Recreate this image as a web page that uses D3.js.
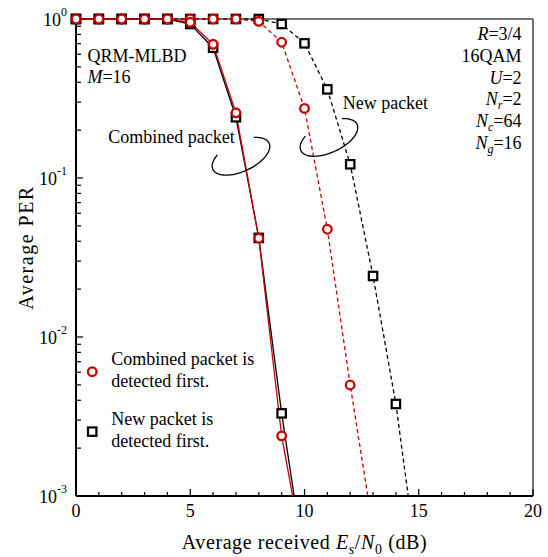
<!DOCTYPE html>
<html>
<head>
<meta charset="utf-8">
<script src="https://cdn.jsdelivr.net/npm/d3@7"></script>
<style>
  html, body { margin: 0; padding: 0; background: #fff; }
  svg { display: block; font-family: "Liberation Serif", "Times New Roman", serif; }
</style>
</head>
<body>
<svg id="chart" width="548" height="557"></svg>
<script>
// SNR grid (dB) for each curve
const snrCombined = [0, 1, 2, 3, 4, 5, 6, 7, 8, 9, 10];
const snrNewRed   = [0, 1, 2, 3, 4, 5, 6, 7, 8, 9, 10, 11, 12, 13];
const snrNewBlack = [0, 1, 2, 3, 4, 5, 6, 7, 8, 9, 10, 11, 12, 13, 14, 15];

// PER of the combined packet
const perCombinedRed   = [1, 1, 1, 1, 1, 0.953, 0.693, 0.257, 0.0418, 0.00239, 0.00039];
const perCombinedBlack = [1, 1, 1, 1, 1, 0.93, 0.66, 0.241, 0.042, 0.00331, 0.00037];
// PER of the new packet
const perNewRed   = [1, 1, 1, 1, 1, 1, 1, 1, 0.967, 0.714, 0.274, 0.0476, 0.00499, 0.00062];
const perNewBlack = [1, 1, 1, 1, 1, 1, 1, 1, 1, 0.93, 0.703, 0.361, 0.122, 0.0242, 0.00379, 0.00032];

const xTicks = [0, 5, 10, 15, 20];
const yTickExponents = [0, -1, -2, -3];
const legendLabels = [["Combined packet is", "detected first."], ["New packet is", "detected first."]];
const paramLines = [
  [["R", "i"], ["=3/4", ""]],
  [["16QAM", ""]],
  [["U", "i"], ["=2", ""]],
  [["N", "i"], ["r", "is"], ["=2", ""]],
  [["N", "i"], ["c", "is"], ["=64", ""]],
  [["N", "i"], ["g", "is"], ["=16", ""]]
];

const RED = "#c80000";
const margin = { left: 76, right: 15, top: 19, bottom: 61 };
const W = 548, H = 557;
const svg = d3.select("#chart");

const x = d3.scaleLinear().domain([0, 20]).range([margin.left, W - margin.right]);
const y = d3.scaleLog().domain([1e-3, 1]).range([H - margin.bottom, margin.top]);

const x0 = x.range()[0], x1 = x.range()[1];
const yb = y.range()[0], yt = y.range()[1];

svg.append("defs").append("clipPath").attr("id", "plotClip")
  .append("rect").attr("x", x0).attr("y", yt - 8).attr("width", x1 - x0).attr("height", yb - yt + 8);

// frame: top and right in grey
svg.append("line").attr("x1", x0).attr("x2", x1).attr("y1", yt).attr("y2", yt)
  .attr("stroke", "#444").attr("stroke-width", 1.5);
svg.append("line").attr("x1", x1).attr("x2", x1).attr("y1", yt).attr("y2", yb)
  .attr("stroke", "#444").attr("stroke-width", 1.5);

// bottom axis: inward ticks every 1 dB, longer every 5 dB
const xAxisG = svg.append("g");
d3.range(0, 21).forEach(v => {
  const major = v % 5 === 0;
  xAxisG.append("line").attr("x1", x(v)).attr("x2", x(v))
    .attr("y1", yb).attr("y2", yb - (major ? 7 : 4))
    .attr("stroke", "#000").attr("stroke-width", 1.2);
});
xTicks.forEach(v => {
  xAxisG.append("text").attr("x", x(v)).attr("y", yb + 21)
    .attr("text-anchor", "middle").attr("font-size", 18).text(v);
});

// left axis: inward decade and minor ticks
const yAxisG = svg.append("g");
[1e-3, 1e-2, 1e-1].forEach(dec => {
  for (let m = 2; m <= 9; m++) {
    const v = dec * m;
    yAxisG.append("line").attr("x1", x0).attr("x2", x0 + 5)
      .attr("y1", y(v)).attr("y2", y(v)).attr("stroke", "#000").attr("stroke-width", 1.2);
  }
});
yTickExponents.forEach(e => {
  const py = y(Math.pow(10, e));
  yAxisG.append("line").attr("x1", x0).attr("x2", x0 + 7)
    .attr("y1", py).attr("y2", py).attr("stroke", "#000").attr("stroke-width", 1.2);
  const t = yAxisG.append("text").attr("x", x0 - 9).attr("y", py + 7)
    .attr("text-anchor", "end").attr("font-size", 18);
  t.append("tspan").text("10");
  t.append("tspan").attr("dy", -10).attr("font-size", 12).text(String(e));
});

// axis lines
svg.append("line").attr("x1", x0).attr("x2", x1).attr("y1", yb).attr("y2", yb)
  .attr("stroke", "#000").attr("stroke-width", 2);
svg.append("line").attr("x1", x0).attr("x2", x0).attr("y1", yt).attr("y2", yb)
  .attr("stroke", "#000").attr("stroke-width", 2);

// axis titles
const xt = svg.append("text").attr("x", (x0 + x1) / 2).attr("y", 549)
  .attr("text-anchor", "middle").attr("font-size", 20).attr("letter-spacing", 0.6);
xt.append("tspan").text("Average received ");
xt.append("tspan").attr("font-style", "italic").text("E");
xt.append("tspan").attr("font-style", "italic").attr("font-size", 14).attr("dy", 5).text("s");
xt.append("tspan").attr("dy", -5).text("/");
xt.append("tspan").attr("font-style", "italic").text("N");
xt.append("tspan").attr("font-size", 14).attr("dy", 5).text("0");
xt.append("tspan").attr("dy", -5).text(" (dB)");

svg.append("text").attr("transform", `translate(33, ${(yt + yb) / 2 - 10}) rotate(-90)`)
  .attr("text-anchor", "middle").attr("font-size", 20).attr("letter-spacing", 1.5)
  .text("Average PER");

// curves
const plot = svg.append("g").attr("clip-path", "url(#plotClip)");
const line = d3.line().x(d => x(d[0])).y(d => y(d[1]));
const zip = (xs, ys) => xs.map((v, i) => [v, ys[i]]);

const series = [
  { pts: zip(snrNewBlack, perNewBlack), color: "#000", dash: "4,3", marker: "square" },
  { pts: zip(snrNewRed, perNewRed), color: RED, dash: "4,3", marker: "circle" },
  { pts: zip(snrCombined, perCombinedBlack), color: "#000", dash: null, marker: "square" },
  { pts: zip(snrCombined, perCombinedRed), color: RED, dash: null, marker: "circle" }
];

series.forEach(s => {
  plot.append("path").datum(s.pts).attr("d", line)
    .attr("fill", "none").attr("stroke", s.color).attr("stroke-width", 1.3)
    .attr("stroke-dasharray", s.dash);
});

function drawMarker(g, kind, cx, cy, color) {
  if (kind === "circle") {
    g.append("circle").attr("cx", cx).attr("cy", cy).attr("r", 4.3)
      .attr("fill", "#fff").attr("stroke", color).attr("stroke-width", 2.3);
  } else {
    g.append("rect").attr("x", cx - 4.2).attr("y", cy - 4.2).attr("width", 8.4).attr("height", 8.4)
      .attr("fill", "#fff").attr("stroke", color).attr("stroke-width", 2.2);
  }
}
series.forEach(s => {
  s.pts.filter(d => d[1] >= 1e-3).forEach(d => drawMarker(svg, s.marker, x(d[0]), y(d[1]), s.color));
});

// text annotations
const serif = 18;
svg.append("text").attr("x", x(0.5)).attr("y", y(0.534)).attr("font-size", serif).text("QRM-MLBD");
const mt = svg.append("text").attr("x", x(0.5)).attr("y", y(0.394)).attr("font-size", serif);
mt.append("tspan").attr("font-style", "italic").text("M");
mt.append("tspan").text("=16");

// simulation parameters, right aligned
const px = x(19.5), py0 = y(0.738);
paramLines.forEach((parts, i) => {
  const t = svg.append("text").attr("x", px).attr("y", py0 + i * 21.8)
    .attr("text-anchor", "end").attr("font-size", serif);
  let shifted = false;
  parts.forEach(([txt, style]) => {
    const ts = t.append("tspan").text(txt);
    if (style === "i") ts.attr("font-style", "italic");
    if (style === "is") {
      ts.attr("font-style", "italic").attr("font-size", 12).attr("dy", 4);
      shifted = true;
    } else if (shifted) {
      ts.attr("dy", -4);
      shifted = false;
    }
  });
});

// group labels with lasso arcs
svg.append("text").attr("x", x(1.41)).attr("y", y(0.166)).attr("font-size", serif).text("Combined packet");
svg.append("text").attr("x", x(11.67)).attr("y", y(0.2716)).attr("font-size", serif).text("New packet");

function lasso(cxv, cyv) {
  const cx = x(cxv), cy = y(cyv);
  const a = 31, b = 15, th = -25 * Math.PI / 180;
  const pts = d3.range(-51, 229, 3).map(deg => {
    const t = deg * Math.PI / 180;
    const lx = a * Math.cos(t), ly = b * Math.sin(t);
    return [cx + lx * Math.cos(th) - ly * Math.sin(th), cy + lx * Math.sin(th) + ly * Math.cos(th)];
  });
  svg.append("path").attr("d", d3.line().curve(d3.curveCardinal)(pts))
    .attr("fill", "none").attr("stroke", "#000").attr("stroke-width", 1.3);
}
lasso(7.22, 0.137);
lasso(11.07, 0.18);

// legend
const legendMarks = [{ kind: "circle", color: RED, xv: 0.71, yv: 0.00605 },
                     { kind: "square", color: "#000", xv: 0.71, yv: 0.00254 }];
legendMarks.forEach((m, i) => {
  const cx = x(m.xv), cy = y(m.yv);
  drawMarker(svg, m.kind, cx, cy, m.color);
  legendLabels[i].forEach((txt, j) => {
    svg.append("text").attr("x", cx + 19).attr("y", cy - 6.7 + j * 22)
      .attr("font-size", serif).text(txt);
  });
});
</script>
</body>
</html>
